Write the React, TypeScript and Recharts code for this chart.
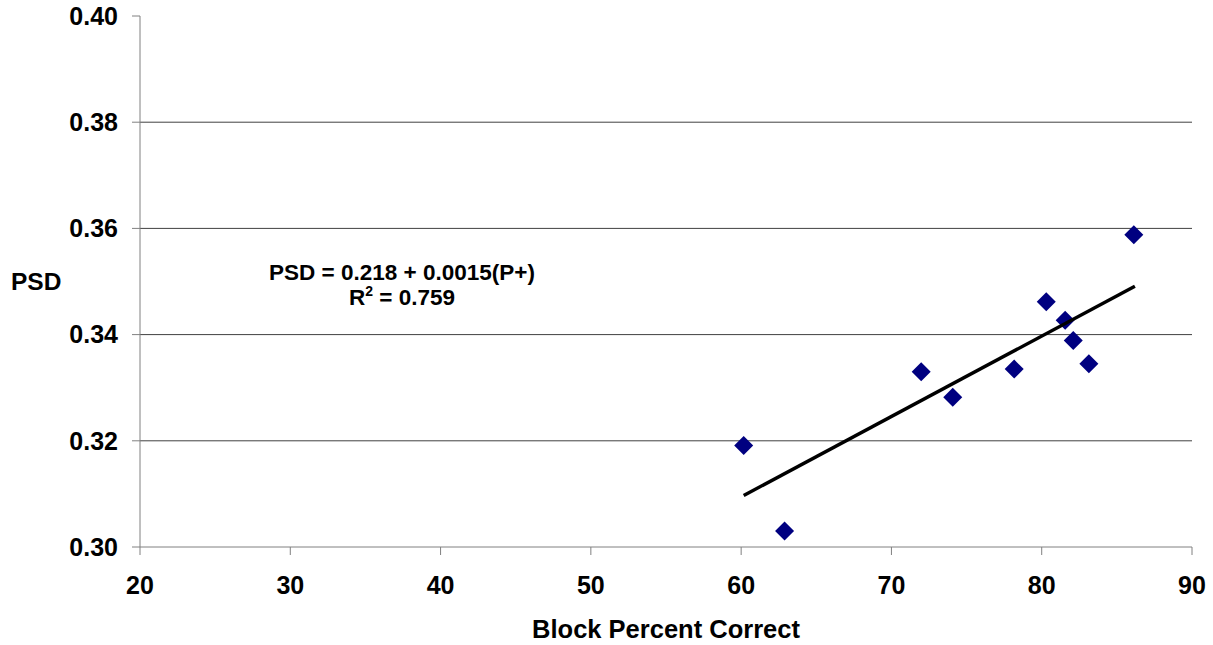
import React from 'react';
import { ScatterChart, Scatter, XAxis, YAxis, CartesianGrid } from 'recharts';

const blockPercent = [60.17, 62.89, 71.98, 74.08, 78.17, 80.3, 81.56, 82.1, 83.14, 86.13];
const psdValues = [0.3191, 0.303, 0.333, 0.3282, 0.3335, 0.3462, 0.3427, 0.3389, 0.3345, 0.3588];

const trendX = [60.17, 86.2];
const trendY = [0.3097, 0.3491];

const xTicks = [20, 30, 40, 50, 60, 70, 80, 90];
const yTicks = [0.3, 0.32, 0.34, 0.36, 0.38, 0.4];
const gridLines = [0.32, 0.34, 0.36, 0.38];

const points = blockPercent.map((x, i) => ({ x, y: psdValues[i] }));
const trend = trendX.map((x, i) => ({ x, y: trendY[i] }));

const FONT = '"Liberation Sans", Arial, sans-serif';

const Diamond = (props: any) => {
  const { cx, cy } = props;
  const r = 9.5;
  return (
    <polygon
      points={`${cx},${cy - r} ${cx + r},${cy} ${cx},${cy + r} ${cx - r},${cy}`}
      fill="#000080"
    />
  );
};

const App: React.FC = () => {
  const tickStyle = { fontFamily: FONT, fontSize: 25, fontWeight: 'bold', fill: '#000' };

  return (
    <div style={{ position: 'absolute', left: 0, top: 0, width: 1213, height: 645, background: '#fff' }}>
      <ScatterChart width={1213} height={645} margin={{ top: 16, right: 21, bottom: 0, left: 0 }}>
        <CartesianGrid
          vertical={false}
          horizontalValues={gridLines}
          stroke="#404040"
          strokeWidth={1}
        />
        <XAxis
          type="number"
          dataKey="x"
          domain={[20, 90]}
          ticks={xTicks}
          height={98}
          tickSize={8}
          tickMargin={21}
          stroke="#808080"
          tick={tickStyle}
          label={{
            value: 'Block Percent Correct',
            position: 'insideBottom',
            offset: 7,
            style: { fontFamily: FONT, fontSize: 25.5, fontWeight: 'bold', fill: '#000' },
          }}
        />
        <YAxis
          type="number"
          dataKey="y"
          domain={[0.3, 0.4]}
          ticks={yTicks}
          width={140}
          tickSize={8}
          tickMargin={14}
          stroke="#808080"
          tick={tickStyle}
          tickFormatter={(v: number) => v.toFixed(2)}
          label={{
            value: 'PSD',
            position: 'insideLeft',
            offset: 11,
            style: { fontFamily: FONT, fontSize: 24.5, fontWeight: 'bold', fill: '#000' },
          }}
        />
        <Scatter data={points} shape={<Diamond />} isAnimationActive={false} />
        <Scatter
          data={trend}
          line={{ stroke: '#000', strokeWidth: 3.5 }}
          shape={() => null}
          isAnimationActive={false}
        />
      </ScatterChart>
      <div
        style={{
          position: 'absolute',
          left: 402,
          top: 260,
          transform: 'translateX(-50%)',
          fontFamily: FONT,
          fontSize: 22.5,
          fontWeight: 'bold',
          lineHeight: '25px',
          textAlign: 'center',
          whiteSpace: 'nowrap',
          color: '#000',
        }}
      >
        <div>PSD = 0.218 + 0.0015(P+)</div>
        <div>
          R<span style={{ fontSize: 14, position: 'relative', top: -9 }}>2</span> = 0.759
        </div>
      </div>
    </div>
  );
};

export default App;
